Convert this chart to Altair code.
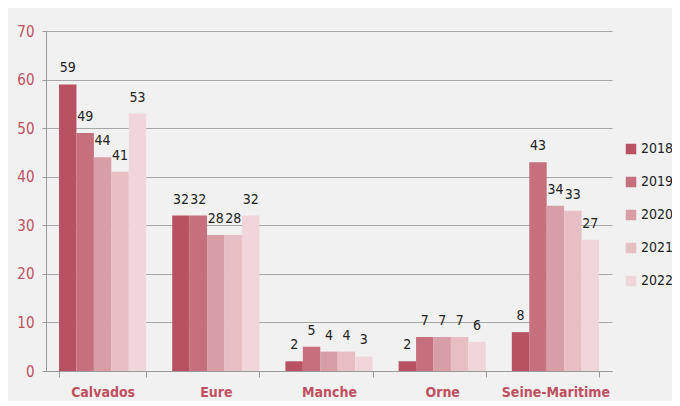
import altair as alt
import pandas as pd

categories = ["Calvados", "Eure", "Manche", "Orne", "Seine-Maritime"]
years = ["2018", "2019", "2020", "2021", "2022"]
values = {
    "2018": [59, 32, 2, 2, 8],
    "2019": [49, 32, 5, 7, 43],
    "2020": [44, 28, 4, 7, 34],
    "2021": [41, 28, 4, 7, 33],
    "2022": [53, 32, 3, 6, 27],
}
colors = ["#b85262", "#c66f7d", "#d89ea8", "#e7bec4", "#f0d6da"]

rows = []
for y in years:
    for c, v in zip(categories, values[y]):
        rows.append({"cat": c, "year": y, "value": v})
df = pd.DataFrame(rows)

FONT = "DejaVu Sans Condensed, Liberation Sans Narrow, sans-serif"
RED = "#c0505f"

base = alt.Chart(df).encode(
    x=alt.X("cat:N", sort=categories, title=None,
            scale=alt.Scale(paddingInner=0.23, paddingOuter=0.115),
            axis=alt.Axis(labelAngle=0, labelColor=RED, labelFontWeight="bold",
                          labelFontSize=14, labelFont=FONT, labelPadding=8,
                          domainColor="#999999", tickColor="#999999",
                          tickBand="extent", tickSize=6, grid=False)),
    xOffset=alt.XOffset("year:N", sort=years),
)

bars = base.mark_bar().encode(
    y=alt.Y("value:Q", title=None,
            scale=alt.Scale(domain=[0, 70]),
            axis=alt.Axis(values=list(range(0, 71, 10)), labelColor=RED,
                          labelFontSize=15, labelFont=FONT, labelPadding=8,
                          gridColor="#a6a6a6", domainColor="#999999",
                          tickColor="#999999", tickSize=4)),
    color=alt.Color("year:N", sort=years,
                    scale=alt.Scale(domain=years, range=colors),
                    legend=alt.Legend(title=None, orient="none", legendX=578,
                                      legendY=111, symbolType="square",
                                      symbolSize=110, symbolStrokeWidth=0,
                                      labelOffset=3,
                                      labelFontSize=14, labelFont=FONT,
                                      labelColor="#222222", rowPadding=19)),
)

labels = base.mark_text(dy=-16, fontSize=14, font=FONT, color="#222222").encode(
    y=alt.Y("value:Q"),
    text=alt.Text("value:Q"),
)

chart = (bars + labels).properties(
    width=566, height=340, background="#f1f1f1",
    padding={"left": 38, "top": 23, "right": 60, "bottom": 30},
    autosize=alt.AutoSizeParams(type="none"),
).configure_view(stroke=None).configure_axis(domainWidth=1)

chart.save("out.html", embed_options={"renderer": "svg", "actions": False})
